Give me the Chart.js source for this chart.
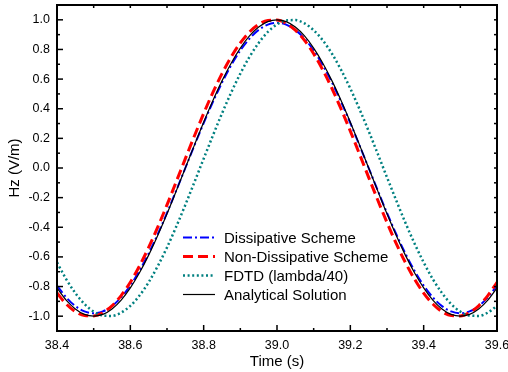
<!DOCTYPE html>
<html><head><meta charset="utf-8">
<script src="https://cdn.jsdelivr.net/npm/chart.js@4.4.0/dist/chart.umd.min.js"></script>
<style>html,body{margin:0;padding:0;background:#fff}canvas{display:block}</style>
</head><body>
<canvas id="c" width="508" height="372"></canvas>
<script>
const time = [38.400,38.425,38.450,38.475,38.500,38.525,38.550,38.575,38.600,38.625,38.650,38.675,38.700,38.725,38.750,38.775,38.800,38.825,38.850,38.875,38.900,38.925,38.950,38.975,39.000,39.025,39.050,39.075,39.100,39.125,39.150,39.175,39.200,39.225,39.250,39.275,39.300,39.325,39.350,39.375,39.400,39.425,39.450,39.475,39.500,39.525,39.550,39.575,39.600];
const dissipative = [-0.793,-0.873,-0.932,-0.968,-0.980,-0.968,-0.932,-0.873,-0.793,-0.693,-0.576,-0.445,-0.303,-0.153,0.000,0.153,0.303,0.445,0.576,0.693,0.793,0.873,0.932,0.968,0.980,0.968,0.932,0.873,0.793,0.693,0.576,0.445,0.303,0.153,0.000,-0.153,-0.303,-0.445,-0.576,-0.693,-0.793,-0.873,-0.932,-0.968,-0.980,-0.968,-0.932,-0.873,-0.793];
const nonDissipative = [-0.844,-0.918,-0.969,-0.996,-0.998,-0.976,-0.930,-0.861,-0.771,-0.661,-0.536,-0.397,-0.249,-0.094,0.063,0.218,0.368,0.509,0.637,0.750,0.844,0.918,0.969,0.996,0.998,0.976,0.930,0.861,0.771,0.661,0.536,0.397,0.249,0.094,-0.063,-0.218,-0.368,-0.509,-0.637,-0.750,-0.844,-0.918,-0.969,-0.996,-0.998,-0.976,-0.930,-0.861,-0.771];
const fdtd = [-0.637,-0.750,-0.844,-0.918,-0.969,-0.996,-0.998,-0.976,-0.930,-0.861,-0.771,-0.661,-0.536,-0.397,-0.249,-0.094,0.063,0.218,0.368,0.509,0.637,0.750,0.844,0.918,0.969,0.996,0.998,0.976,0.930,0.861,0.771,0.661,0.536,0.397,0.249,0.094,-0.063,-0.218,-0.368,-0.509,-0.637,-0.750,-0.844,-0.918,-0.969,-0.996,-0.998,-0.976,-0.930];
const analytical = [-0.809,-0.891,-0.951,-0.988,-1.000,-0.988,-0.951,-0.891,-0.809,-0.707,-0.588,-0.454,-0.309,-0.156,0.000,0.156,0.309,0.454,0.588,0.707,0.809,0.891,0.951,0.988,1.000,0.988,0.951,0.891,0.809,0.707,0.588,0.454,0.309,0.156,0.000,-0.156,-0.309,-0.454,-0.588,-0.707,-0.809,-0.891,-0.951,-0.988,-1.000,-0.988,-0.951,-0.891,-0.809];
const seriesNames = ['Dissipative Scheme','Non-Dissipative Scheme','FDTD (lambda/40)','Analytical Solution'];
const xTicks = [38.4,38.6,38.8,39.0,39.2,39.4,39.6];
const yTicks = [-1.0,-0.8,-0.6,-0.4,-0.2,0.0,0.2,0.4,0.6,0.8,1.0];
const xTitle = 'Time (s)';
const yTitle = 'Hz (V/m)';

const FONT = '"Liberation Sans", Arial, sans-serif';
const pts = arr => time.map((t,i)=>({x:t,y:arr[i]}));
const styles = [
  {color:'#0000ff', width:2, dash:[9,3,2,3]},
  {color:'#ff0000', width:3, dash:[10,5]},
  {color:'#008080', width:2.5, dash:[2,2.6]},
  {color:'#000000', width:1.2, dash:[]}
];
const seriesData = [dissipative, nonDissipative, fdtd, analytical];
// dataset order reversed so analytical is drawn on top
const datasets = [3,2,1,0].map(i=>({
  label: seriesNames[i], data: pts(seriesData[i]),
  borderColor: styles[i].color, borderWidth: styles[i].width, borderDash: styles[i].dash,
  pointRadius: 0, fill: false, cubicInterpolationMode: 'monotone'
}));

const frame = {
  id:'frame',
  afterDatasetsDraw(chart){
    const {ctx, chartArea:a, scales:{x, y}} = chart;
    ctx.save();
    ctx.strokeStyle = '#000'; ctx.lineWidth = 1.5;
    const ln=(x1,y1,x2,y2)=>{ctx.beginPath();ctx.moveTo(x1,y1);ctx.lineTo(x2,y2);ctx.stroke();};
    const mids = arr => arr.slice(0,-1).map((v,i)=>(v+arr[i+1])/2);
    xTicks.forEach(v=>{const p=x.getPixelForValue(v); ln(p,a.bottom,p,a.bottom-6); ln(p,a.top,p,a.top+3);});
    mids(xTicks).forEach(v=>{const p=x.getPixelForValue(v); ln(p,a.bottom,p,a.bottom-3); ln(p,a.top,p,a.top+3);});
    yTicks.forEach(v=>{const p=y.getPixelForValue(v); ln(a.left,p,a.left+6,p); ln(a.right,p,a.right-3,p);});
    mids(yTicks).forEach(v=>{const p=y.getPixelForValue(v); ln(a.left,p,a.left+3,p); ln(a.right,p,a.right-3,p);});
    ctx.lineWidth = 2;
    ctx.strokeRect(a.left, a.top, a.right-a.left, a.bottom-a.top);
    // legend
    const lx = a.left + 126, rowY = [237.5, 256.5, 275.5, 294.5];
    ctx.font = '15px ' + FONT; ctx.textBaseline = 'middle'; ctx.fillStyle = '#000';
    seriesNames.forEach((n,i)=>{
      const s = styles[i];
      ctx.save();
      ctx.strokeStyle = s.color; ctx.lineWidth = s.width; ctx.setLineDash(s.dash);
      ln(lx, rowY[i], lx+32, rowY[i]);
      ctx.restore();
      ctx.fillText(n, lx+41, rowY[i]+1);
    });
    ctx.restore();
  }
};

new Chart(document.getElementById('c'), {
  type:'line',
  data:{datasets},
  options:{
    responsive:false, animation:false, devicePixelRatio:1,
    layout:{padding:{left:0, top:5, right:11, bottom:0}},
    plugins:{legend:{display:false}, tooltip:{enabled:false}},
    scales:{
      x:{type:'linear', min:38.4, max:39.6,
        afterBuildTicks: s=>{ s.ticks = xTicks.map(v=>({value:v})); },
        afterFit: s=>{ s.height = 41; s.paddingLeft = 0; s.paddingRight = 0; },
        grid:{display:false, drawTicks:false}, border:{display:false},
        ticks:{color:'#000', padding:7, maxRotation:0, autoSkip:false, font:{family:FONT, size:12.5}, callback:v=>Number(v).toFixed(1)},
        title:{display:true, text:xTitle, color:'#000', font:{family:FONT, size:15}, padding:{top:0,bottom:1}}
      },
      y:{type:'linear', min:-1.1, max:1.1,
        afterBuildTicks: s=>{ s.ticks = yTicks.map(v=>({value:v})); },
        afterFit: s=>{ s.width = 57; s.paddingTop = 0; s.paddingBottom = 0; },
        grid:{display:false, drawTicks:false}, border:{display:false},
        ticks:{color:'#000', padding:7, autoSkip:false, font:{family:FONT, size:12.5}, callback:v=>Number(v).toFixed(1)},
        title:{display:true, text:yTitle, color:'#000', font:{family:FONT, size:15}, padding:{top:6,bottom:0}}
      }
    }
  },
  plugins:[frame]
});
</script>
</body></html>
